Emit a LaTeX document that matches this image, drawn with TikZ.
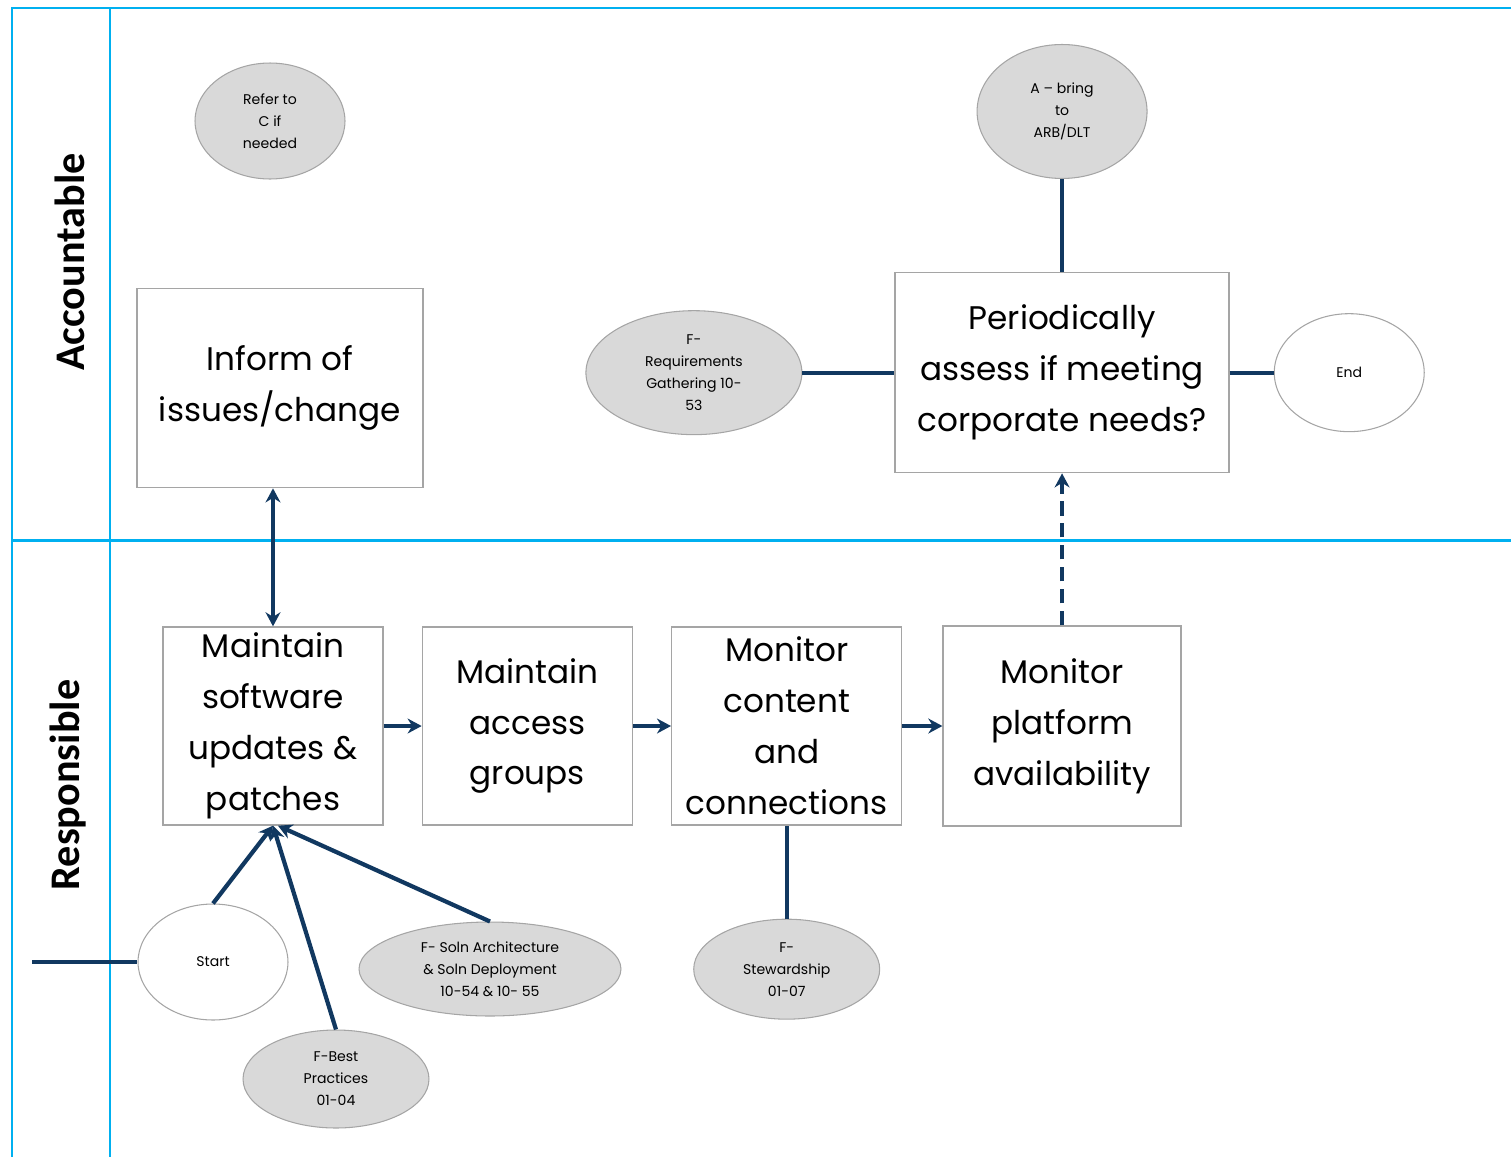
\documentclass[tikz,border=0pt]{standalone}
\usepackage{fontspec}
\setmainfont{Poppins}
\newfontfamily\lanefont{Carlito}
\usetikzlibrary{arrows.meta, positioning, shapes.geometric}

\definecolor{lane}{RGB}{0,176,240}
\definecolor{navy}{RGB}{17,56,96}
\definecolor{oval}{RGB}{217,217,217}
\definecolor{rim}{RGB}{165,165,165}

\begin{document}
\begin{tikzpicture}[x=0.02cm, y=-0.02cm, >={Stealth[length=8pt, width=8.5pt]},
    task/.style={draw=rim, line width=0.8pt, align=center, inner sep=0pt,
        font=\fontsize{18.6}{29}\selectfont},
    oval/.style={ellipse, draw=rim, line width=0.6pt, fill=oval, align=center,
        inner sep=0pt, font=\fontsize{8}{12.5}\selectfont},
    term/.style={oval, fill=white},
    flow/.style={navy, line width=2.4pt},
    swim/.style={lane, line width=1.7pt}]

    \useasboundingbox (0,0) rectangle (1511,1157);

    % -------------------------------------------------------------
    % Swim lanes
    % -------------------------------------------------------------
    \draw[swim] (1511,8) -- (12,8) -- (12,1157);
    \draw[swim] (110,8) -- (110,1157);
    \draw[swim] (12,540) -- (1511,540);
    \node[rotate=90, font=\lanefont\fontsize{24}{28}\selectfont\bfseries] (Acc) at (70,262) {Accountable};
    \node[rotate=90, font=\lanefont\fontsize{24}{28}\selectfont\bfseries] (Resp) at (68,785) {Responsible};

    % -------------------------------------------------------------
    % Responsible: main row of tasks
    % -------------------------------------------------------------
    \node[task, minimum width=4.4cm, minimum height=3.96cm] (MaintSW) at (273,726)
        {Maintain\\software\\updates \&\\patches};
    \node[task, minimum width=4.2cm, minimum height=3.96cm] (Access) [right=0.76cm of MaintSW]
        {Maintain\\access\\groups};
    \node[task, minimum width=4.6cm, minimum height=3.96cm] (Content) [right=0.76cm of Access]
        {Monitor\\content\\and\\connections};
    \node[task, minimum width=4.76cm, minimum height=4cm] (Platform) [right=0.8cm of Content]
        {Monitor\\platform\\availability};

    \draw[flow, ->] (MaintSW) -- (Access);
    \draw[flow, ->] (Access) -- (Content);
    \draw[flow, ->] (Content) -- (Platform);

    % inputs feeding the first task
    \node[term, minimum width=3cm, minimum height=2.32cm] (Start) at (213,962) {Start};
    \node[oval, minimum width=3.72cm, minimum height=1.96cm] (Best) at (336,1079)
        {F-Best\\Practices\\01-04};
    \node[oval, minimum width=5.24cm, minimum height=1.88cm] (Soln) at (490,969)
        {F- Soln Architecture\\\& Soln Deployment\\10-54 \& 10- 55};
    \node[oval, minimum width=3.72cm, minimum height=2cm] (Stew) [below=1.86cm of Content]
        {F-\\Stewardship\\01-07};
    \coordinate (Feed) at (32,962);

    \draw[flow] (Feed) -- (Start);
    \draw[flow, ->] (Start.north) -- (MaintSW.south);
    \draw[flow, ->] (Best.north) -- (MaintSW.south);
    \draw[flow, ->] (Soln.north) -- ([xshift=0.1cm]MaintSW.south);
    \draw[flow] (Stew) -- (Content);

    % -------------------------------------------------------------
    % Accountable
    % -------------------------------------------------------------
    \node[task, minimum width=5.72cm, minimum height=3.98cm] (Inform) [above=2.76cm of MaintSW, xshift=0.14cm]
        {Inform of\\issues/change};
    \node[oval, minimum width=3cm, minimum height=2.32cm] (Refer) at (270,121)
        {Refer to\\C if\\needed};
    \node[task, minimum width=6.68cm, minimum height=4cm] (Assess) [above=3.04cm of Platform]
        {Periodically\\assess if meeting\\corporate needs?};
    \node[oval, minimum width=3.4cm, minimum height=2.68cm] (Bring) [above=1.86cm of Assess]
        {A -- bring\\to\\ARB/DLT};
    \node[oval, minimum width=4.32cm, minimum height=2.48cm] (Req) [left=1.84cm of Assess]
        {F-\\Requirements\\Gathering 10-\\53};
    \node[term, minimum width=3cm, minimum height=2.36cm] (End) [right=0.88cm of Assess] {End};

    \draw[flow, <->] (MaintSW.north |- Inform.south) -- (MaintSW.north);
    \draw[flow, ->, dash pattern=on 8pt off 4.5pt] (Platform.north) -- (Platform.north |- Assess.south);
    \draw[flow] (Bring) -- (Assess);
    \draw[flow] (Req) -- (Assess);
    \draw[flow] (Assess) -- (End);

\end{tikzpicture}
\end{document}
